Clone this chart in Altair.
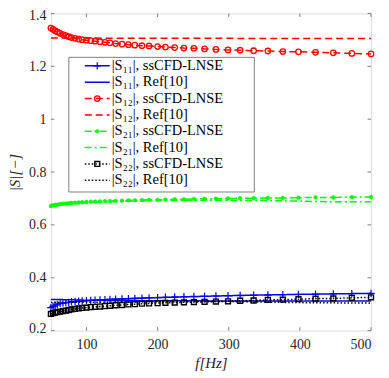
import altair as alt
import pandas as pd

# frequency grid of the ssCFD-LNSE samples (Hz)
freq = [50, 53, 56, 59, 63, 67, 71, 75, 79, 84, 89, 94, 100, 106, 112, 119, 126, 133, 141, 150,
        159, 168, 178, 188, 200, 211, 224, 237, 251, 266, 282, 299, 316, 335, 355, 376, 398, 422,
        447, 473, 500]

s11_ss = [0.287, 0.292, 0.296, 0.299, 0.302, 0.304, 0.306, 0.307, 0.309, 0.310, 0.311, 0.312, 0.313,
          0.314, 0.315, 0.316, 0.317, 0.318, 0.319, 0.320, 0.321, 0.322, 0.323, 0.324, 0.325, 0.326,
          0.327, 0.328, 0.329, 0.330, 0.331, 0.332, 0.333, 0.334, 0.335, 0.336, 0.337, 0.338, 0.339,
          0.340, 0.341]
s12_ss = [1.345, 1.340, 1.335, 1.330, 1.325, 1.320, 1.316, 1.312, 1.309, 1.306, 1.303, 1.301, 1.299,
          1.297, 1.295, 1.293, 1.291, 1.289, 1.286, 1.284, 1.282, 1.280, 1.278, 1.277, 1.275, 1.273,
          1.271, 1.269, 1.268, 1.266, 1.264, 1.262, 1.261, 1.259, 1.258, 1.256, 1.255, 1.253, 1.251,
          1.249, 1.247]
s21_ss = [0.672, 0.674, 0.676, 0.677, 0.679, 0.680, 0.681, 0.682, 0.683, 0.684, 0.685, 0.686, 0.687,
          0.688, 0.688, 0.689, 0.690, 0.690, 0.691, 0.692, 0.693, 0.693, 0.694, 0.695, 0.695, 0.696,
          0.697, 0.697, 0.698, 0.699, 0.699, 0.700, 0.701, 0.701, 0.702, 0.702, 0.703, 0.704, 0.704,
          0.705, 0.706]
s22_ss = [0.263, 0.266, 0.268, 0.270, 0.272, 0.274, 0.276, 0.278, 0.280, 0.282, 0.284, 0.286, 0.287,
          0.289, 0.290, 0.291, 0.293, 0.294, 0.296, 0.297, 0.299, 0.300, 0.302, 0.303, 0.304, 0.305,
          0.306, 0.307, 0.308, 0.309, 0.310, 0.311, 0.313, 0.314, 0.316, 0.317, 0.319, 0.321, 0.322,
          0.324, 0.326]

# reference [10] curves
freq_ref = [50, 75, 100, 150, 200, 250, 300, 350, 400, 450, 500]
s11_ref = [0.318, 0.317, 0.315, 0.314, 0.313, 0.313, 0.312, 0.312, 0.312, 0.312, 0.312]
s12_ref = [1.307, 1.307, 1.307, 1.306, 1.306, 1.306, 1.306, 1.305, 1.305, 1.305, 1.305]
s21_ref = [0.670, 0.678, 0.684, 0.689, 0.692, 0.693, 0.693, 0.692, 0.690, 0.687, 0.688]
s22_ref = [0.306, 0.307, 0.307, 0.308, 0.309, 0.310, 0.310, 0.308, 0.306, 0.305, 0.304]

x_ticks = [100, 200, 300, 400, 500]
y_ticks = [0.2, 0.4, 0.6, 0.8, 1.0, 1.2, 1.4]

labels = ["|S₁₁|, ssCFD-LNSE", "|S₁₁|, Ref[10]",
          "|S₁₂|, ssCFD-LNSE", "|S₁₂|, Ref[10]",
          "|S₂₁|, ssCFD-LNSE", "|S₂₁|, Ref[10]",
          "|S₂₂|, ssCFD-LNSE", "|S₂₂|, Ref[10]"]

W, H = 321, 318
FONT = "Liberation Serif"
AX = "#808080"
TXT = "#262626"

BLUE, RED, GREEN, BLACK = "#0000ff", "#ff0000", "#00ff00", "#000000"
PLUS = "M0,-1L0,1M-1,0L1,0"

series = [
    # label, f, v, color, dash, marker
    (labels[0], freq, s11_ss, BLUE, [1, 0], "plus"),
    (labels[1], freq_ref, s11_ref, BLUE, [1, 0], None),
    (labels[2], freq, s12_ss, RED, [7, 4], "circle"),
    (labels[3], freq_ref, s12_ref, RED, [7, 4], None),
    (labels[4], freq, s21_ss, GREEN, [7, 3, 2, 3], "dot"),
    (labels[5], freq_ref, s21_ref, GREEN, [7, 3, 2, 3], None),
    (labels[6], freq, s22_ss, BLACK, [1.5, 2], "square"),
    (labels[7], freq_ref, s22_ref, BLACK, [1.5, 2], None),
]

xs = alt.Scale(domain=[50, 500], nice=False, zero=False)
ys = alt.Scale(domain=[0.2, 1.4], nice=False, zero=False)

x_axis = alt.Axis(values=x_ticks, tickSize=0, labelPadding=7, grid=False, domain=False,
                  title="f[Hz]", titleFontStyle="italic", titleFontWeight="normal",
                  titleFont=FONT, titleFontSize=15, titlePadding=4,
                  labelFont=FONT, labelFontSize=14, labelColor=TXT, titleColor=TXT)
y_axis = alt.Axis(values=y_ticks, format="~f", tickSize=0, labelPadding=5, grid=False,
                  domain=False, title="|S|[−]", titleFont=FONT, titleFontSize=15,
                  titleFontWeight="normal", titleFontStyle="italic", titlePadding=6,
                  labelFlush=True, labelFlushOffset=5,
                  labelFont=FONT, labelFontSize=14, labelColor=TXT, titleColor=TXT)


def marker_kw(kind, color):
    if kind == "plus":
        return dict(shape=PLUS, size=55, filled=False, stroke=color, strokeWidth=1.2, opacity=1)
    if kind == "circle":
        return dict(shape="circle", size=30, filled=False, stroke=color, strokeWidth=1.3, opacity=1)
    if kind == "dot":
        return dict(shape="circle", size=14, filled=True, fill=color, stroke=color,
                    strokeWidth=0.5, opacity=1)
    return dict(shape="square", size=24, filled=False, stroke=color, strokeWidth=1.4, opacity=1)


layers = []
for lab, f, v, color, dash, mk in series:
    df = pd.DataFrame({"f": f, "v": v})
    layers.append(alt.Chart(df).mark_line(color=color, strokeDash=dash, strokeWidth=1.5).encode(
        x=alt.X("f:Q", scale=xs, axis=x_axis), y=alt.Y("v:Q", scale=ys, axis=y_axis)))
    if mk:
        layers.append(alt.Chart(df).mark_point(**marker_kw(mk, color)).encode(
            x=alt.X("f:Q", scale=xs, axis=x_axis), y=alt.Y("v:Q", scale=ys, axis=y_axis)))

# inward ticks on all four sides
xt = pd.DataFrame({"f": x_ticks})
yt = pd.DataFrame({"v": y_ticks})
TL = 3.5
layers += [
    alt.Chart(xt).mark_rule(color=AX, strokeWidth=1).encode(
        x=alt.X("f:Q", scale=xs, axis=x_axis), y=alt.value(H), y2=alt.value(H - TL)),
    alt.Chart(xt).mark_rule(color=AX, strokeWidth=1).encode(
        x=alt.X("f:Q", scale=xs, axis=x_axis), y=alt.value(0), y2=alt.value(TL)),
    alt.Chart(yt).mark_rule(color=AX, strokeWidth=1).encode(
        y=alt.Y("v:Q", scale=ys, axis=y_axis), x=alt.value(0), x2=alt.value(TL)),
    alt.Chart(yt).mark_rule(color=AX, strokeWidth=1).encode(
        y=alt.Y("v:Q", scale=ys, axis=y_axis), x=alt.value(W), x2=alt.value(W - TL)),
]

# legend box
one = alt.Data(values=[{"a": 1}])
LX0, LX1, LY0, LY1 = 18, 204, 44, 179
layers.append(alt.Chart(one).mark_rect(fill="white", stroke=AX, strokeWidth=1).encode(
    x=alt.value(LX0), x2=alt.value(LX1), y=alt.value(LY0), y2=alt.value(LY1)))
ROW0, STEP = 52.5, 16.4
for i, (lab, f, v, color, dash, mk) in enumerate(series):
    yy = ROW0 + i * STEP
    layers.append(alt.Chart(one).mark_rule(color=color, strokeDash=dash, strokeWidth=1.5).encode(
        x=alt.value(34), x2=alt.value(59), y=alt.value(yy)))
    if mk:
        layers.append(alt.Chart(one).mark_point(**marker_kw(mk, color)).encode(
            x=alt.value(46.5), y=alt.value(yy)))
    layers.append(alt.Chart(one).mark_text(font=FONT, fontSize=14.5, align="left", baseline="middle",
                                           color="#000000").encode(
        x=alt.value(61), y=alt.value(yy), text=alt.value(lab)))

chart = alt.layer(*layers).properties(
    width=W, height=H,
    autosize=alt.AutoSizeParams(type="none"),
    padding={"left": 43, "top": 5, "right": 10, "bottom": 40},
).configure_view(stroke=AX, strokeWidth=1).configure(background="white")

chart.save("out.html", embed_options={"renderer": "svg", "actions": False})
